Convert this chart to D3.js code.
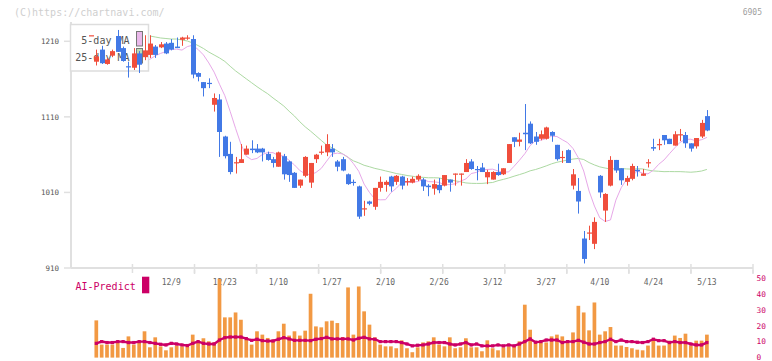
<!DOCTYPE html>
<html><head><meta charset="utf-8">
<script src="https://cdn.jsdelivr.net/npm/d3@7"></script>
<style>html,body{margin:0;padding:0;background:#fff;}svg{display:block;}</style>
</head><body>
<div id="chart"></div>
<script>
// ---- data ----
const dates = ["11/18","11/19","11/20","11/21","11/22","11/25","11/26","11/27","11/28","11/29",
"12/2","12/3","12/4","12/5","12/6","12/9","12/10","12/11","12/12","12/13",
"12/16","12/17","12/18","12/19","12/20","12/23","12/24","12/25","12/26","12/27",
"12/30","1/6","1/7","1/8","1/9","1/10","1/14","1/15","1/16","1/17",
"1/20","1/21","1/22","1/23","1/24","1/27","1/28","1/29","1/30","1/31",
"2/3","2/4","2/5","2/6","2/7","2/10","2/12","2/13","2/14","2/17",
"2/18","2/19","2/20","2/21","2/25","2/26","2/27","2/28","3/3","3/4",
"3/5","3/6","3/7","3/10","3/11","3/12","3/13","3/14","3/17","3/18",
"3/19","3/21","3/24","3/25","3/26","3/27","3/28","3/31","4/1","4/2",
"4/3","4/4","4/7","4/8","4/9","4/10","4/11","4/14","4/15","4/16",
"4/17","4/18","4/21","4/22","4/23","4/24","4/25","4/28","4/30","5/1",
"5/2","5/7","5/8","5/9","5/12","5/13"];
const open = [1218,1183,1199,1180,1191,1217,1201,1177,1175,1194,
1189,1192,1203,1202,1207,1208,1203,1212,1215,1213,
1168,1156,1155,1126,1133,1084,1061,1049,1049,1060,
1068,1068,1068,1061,1054,1044,1058,1051,1036,1019,
1032,1023,1054,1063,1063,1068,1051,1054,1034,1024,
1018,988,998,991,1016,1020,1031,1024,1031,1025,
1023,1027,1027,1019,1015,1020,1019,1027,1035,1035,
1037,1051,1041,1043,1030,1027,1037,1034,1049,1083,
1077,1089,1101,1084,1081,1081,1090,1073,1056,1066,
1019,1012,949,957,942,1032,986,1019,1053,1042,
1024,1028,1040,1032,1049,1070,1073,1086,1081,1072,
1086,1086,1075,1071,1084,1111];
const high = [1218,1199,1204,1188,1199,1225,1203,1183,1201,1197,
1218,1218,1205,1209,1209,1213,1215,1216,1218,1218,
1169,1156,1161,1141,1140,1085,1077,1057,1074,1072,
1079,1074,1069,1064,1057,1064,1061,1052,1037,1027,
1058,1049,1061,1072,1087,1074,1053,1057,1035,1027,
1019,999,999,1016,1031,1026,1032,1033,1032,1029,
1031,1034,1029,1021,1027,1029,1033,1027,1035,1035,
1054,1054,1045,1049,1040,1038,1048,1042,1074,1083,
1089,1127,1104,1090,1092,1097,1091,1073,1065,1067,
1041,1029,959,966,977,1033,1009,1058,1053,1042,
1032,1048,1045,1041,1054,1081,1081,1086,1081,1091,
1094,1090,1075,1082,1106,1119];
const low = [1218,1178,1180,1179,1189,1196,1183,1162,1172,1168,
1185,1188,1188,1201,1193,1198,1201,1204,1212,1161,
1157,1137,1148,1117,1057,1055,1034,1035,1049,1060,
1062,1062,1051,1052,1043,1044,1027,1024,1016,1016,
1030,1016,1049,1060,1058,1057,1038,1038,1020,1019,
975,979,993,987,1011,1011,1011,1020,1014,1019,
1022,1025,1012,1005,1007,1009,1018,1011,1019,1019,
1037,1040,1026,1037,1021,1027,1032,1033,1049,1070,
1071,1066,1074,1073,1079,1080,1077,1052,1049,1049,
1014,982,916,947,935,1003,971,1018,1036,1020,
1019,1026,1031,1032,1043,1065,1066,1073,1074,1072,
1078,1069,1064,1068,1082,1091];
const close = [1218,1190,1181,1186,1197,1196,1184,1176,1194,1179,
1198,1207,1192,1206,1194,1199,1201,1215,1215,1166,
1163,1148,1154,1135,1090,1058,1037,1050,1054,1068,
1066,1063,1063,1053,1049,1063,1034,1033,1016,1027,
1057,1049,1060,1064,1074,1063,1044,1039,1021,1023,
978,989,995,1016,1024,1024,1018,1032,1019,1025,
1028,1032,1018,1017,1021,1013,1033,1023,1035,1035,
1049,1041,1040,1037,1037,1037,1033,1042,1074,1077,
1080,1087,1075,1077,1087,1096,1085,1054,1057,1049,
1034,998,922,957,971,1010,1008,1053,1039,1026,
1029,1045,1038,1035,1050,1068,1074,1079,1074,1087,
1087,1075,1068,1082,1102,1092];
const ma25Head = [1217,1215.7,1214.4,1213.7,1213,1213,1211.7,1210.4,1207.8,1204.4,1200.5,1195.8,1191.9,1188];
const ma25HeadStart = 10;
const volume = [0,23.5,8.2,8.2,8.2,9.6,6.1,13.4,8.2,9.6,
16.6,6.5,12.8,7.1,4.6,6.5,7.6,7.1,7.1,14.5,
10.3,12.2,10.3,9.6,49.7,25.4,25.4,28.5,23.9,11.3,
8.2,16.6,14.5,12.4,11.3,16.6,21.4,13.9,16.6,13.9,
17.0,40.3,19.7,19.1,22.9,23.3,21.8,13.0,44.3,14.5,
44.9,29.2,20.8,12.8,8.2,7.1,7.1,5.9,10.9,5.9,
3.4,6.5,9.6,10.3,12.8,8.2,7.1,12.8,5.9,6.5,
12.2,6.5,6.5,4.0,10.9,5.9,4.6,6.5,7.1,7.8,
10.3,33.4,17.6,9.2,9.6,9.6,13.4,14.5,13.4,9.2,
15.9,32.7,28.5,17.2,34.8,14.5,16.6,19.3,7.6,7.6,
6.7,5.9,5.0,4.6,7.6,10.7,7.6,7.6,10.7,13.9,
12.4,15.1,7.6,10.7,10.7,14.5];
const aiPredict = [null,9.0,10.1,9.5,9.5,10.1,10.1,9.5,9.5,10.1,
10.1,9.5,9.0,8.4,8.0,9.0,8.6,8.0,7.6,9.0,
10.1,9.0,8.6,8.6,11.1,12.6,13.0,13.0,13.0,12.0,
10.9,11.6,10.7,10.5,10.5,11.6,12.6,11.8,10.9,10.9,
10.9,10.7,11.6,12.0,12.8,11.8,11.8,11.8,11.8,11.1,
12.2,12.8,11.8,11.6,10.1,10.1,10.1,10.1,9.5,8.6,
7.4,7.8,8.0,8.6,9.5,9.5,9.5,8.6,8.0,8.6,
9.5,8.0,8.6,7.4,7.4,7.4,8.0,7.4,8.0,7.4,
8.6,10.1,11.8,9.7,10.1,11.1,11.1,11.1,9.5,10.1,
10.1,10.9,9.7,8.6,8.6,9.5,10.1,11.6,10.1,11.1,
10.1,10.1,9.7,9.5,10.1,11.6,10.7,10.7,9.5,10.1,
9.5,9.5,8.6,8.0,8.0,9.5];
const priceTicks = [910,1010,1110,1210];
const dateLabels = ["12/9","12/23","1/10","1/27","2/10","2/26","3/12","3/27","4/10","4/24","5/13"];
const rightTicks = [0,10,20,30,40,50];
const legendItems = ["5-day MA","25-day MA"];
const code = "6905";

// ---- derived moving averages ----
function sma(n){ return close.map((c,i)=> i>=n-1 ? d3.mean(close.slice(i-n+1,i+1)) : null); }
const ma5 = sma(5);
const ma25 = sma(25).map((v,i)=> (i>=ma25HeadStart && i<ma25HeadStart+ma25Head.length) ? ma25Head[i-ma25HeadStart] : v);

// ---- drawing ----
const W=772,H=361;
const MONO = "'DejaVu Sans Mono', monospace";
const svg = d3.select("#chart").append("svg").attr("width",W).attr("height",H);

const x = d3.scalePoint().domain(dates).range([90.95, 706.9]);
const y = d3.scaleLinear().domain([910,1210]).range([268, 41.3]);
const yb = d3.scaleLinear().domain([0,50]).range([357.6, 278.4]);
const grid = d3.scaleLinear().domain([0,11]).range([70.4, 753]);
const AXIS = "#e0e0e0";

// watermark & code
svg.append("text").attr("x",14).attr("y",16).attr("font-family",MONO).attr("font-size",10)
  .attr("fill","#cfcfcf").text("(C)https://chartnavi.com/");
svg.append("text").attr("x",762).attr("y",15).attr("text-anchor","end").attr("font-family",MONO)
  .attr("font-size",8).attr("fill","#a0a0a0").text(code);

// main axes
svg.append("line").attr("x1",71).attr("x2",71).attr("y1",22).attr("y2",268).attr("stroke",AXIS).attr("stroke-width",2);
svg.append("line").attr("x1",71).attr("x2",753).attr("y1",268).attr("y2",268).attr("stroke",AXIS).attr("stroke-width",2);
svg.append("g").selectAll("line").data(d3.range(1,12)).join("line")
  .attr("x1",d=>grid(d)).attr("x2",d=>grid(d)).attr("y1",264).attr("y2",273).attr("stroke",AXIS).attr("stroke-width",1.5);
const yTickG = svg.append("g");
yTickG.selectAll("line").data(priceTicks).join("line")
  .attr("x1",64).attr("x2",72).attr("y1",d=>y(d)).attr("y2",d=>y(d)).attr("stroke",AXIS).attr("stroke-width",1.5);
yTickG.selectAll("text").data(priceTicks).join("text")
  .attr("x",59).attr("y",d=>y(d)+2.8).attr("text-anchor","end").attr("font-family",MONO)
  .attr("font-size",7.5).attr("fill","#555").text(d=>d);

// moving averages (plotted one session later)
const maLine = arr => d3.line()
  .defined((d,i)=> d!=null && i+1<dates.length)
  .x((d,i)=> x(dates[i+1])).y(d=>y(d))(arr);
svg.append("path").attr("d",maLine(ma25)).attr("fill","none").attr("stroke","#acd9a2").attr("stroke-width",1);
svg.append("path").attr("d",maLine(ma5)).attr("fill","none").attr("stroke","#e7a8e8").attr("stroke-width",1);

// legend box
const lg = svg.append("g");
lg.append("rect").attr("x",70.5).attr("y",24.5).attr("width",78).attr("height",46.5)
  .attr("fill","#fff").attr("stroke","#dddddd").attr("stroke-width",1.5);
lg.selectAll("text").data(legendItems).join("text")
  .attr("x",129.5).attr("y",(d,i)=>44+i*17).attr("text-anchor","end").attr("font-family",MONO)
  .attr("font-size",10).attr("fill","#555").text(d=>d);
lg.append("rect").attr("x",136.5).attr("y",31.5).attr("width",6).attr("height",14.5)
  .attr("fill","#eab8ea").attr("stroke","#777").attr("stroke-width",1);
lg.append("rect").attr("x",136.5).attr("y",48.5).attr("width",6).attr("height",14.5)
  .attr("fill","#bcdcb2").attr("stroke","#777").attr("stroke-width",1);

// candles
const UP="#f04e3c", DN="#4279e6";
const candles = svg.append("g");
dates.forEach((d,i)=>{
  const col = close[i]>=open[i] ? UP : DN;
  const cx = Math.round(x(d))+0.5;
  candles.append("line").attr("x1",cx).attr("x2",cx).attr("y1",y(high[i])).attr("y2",y(low[i]))
    .attr("stroke",col).attr("stroke-width",1);
  const top = y(Math.max(open[i],close[i])), bot = y(Math.min(open[i],close[i]));
  candles.append("rect").attr("x",cx-2.5).attr("width",5).attr("y",top).attr("height",Math.max(1.2,bot-top))
    .attr("fill",col);
});

// bottom panel
svg.append("g").selectAll("line").data(d3.range(2,12)).join("line")
  .attr("x1",d=>grid(d)).attr("x2",d=>grid(d)).attr("y1",270).attr("y2",274).attr("stroke",AXIS).attr("stroke-width",1.5);
svg.append("g").selectAll("text").data(dateLabels).join("text")
  .attr("x",d=>x(d)).attr("y",285).attr("text-anchor","middle").attr("font-family",MONO)
  .attr("font-size",8).attr("fill","#666").text(d=>d);
svg.append("g").selectAll("text").data(rightTicks).join("text")
  .attr("x",756.5).attr("y",d=>Math.min(yb(d)+2.6, 359.6)).attr("font-family",MONO)
  .attr("font-size",7.8).attr("fill","#cc0066").text(d=>d);

svg.append("g").selectAll("rect").data(dates).join("rect")
  .attr("x",d=>x(d)-1.85).attr("width",3.7)
  .attr("y",(d,i)=>yb(volume[i])).attr("height",(d,i)=>yb(0)-yb(volume[i]))
  .attr("fill","#f29943");

const aiLine = d3.line().defined(d=>d!=null).x((d,i)=>x(dates[i])).y(d=>yb(d));
svg.append("path").attr("d",aiLine(aiPredict)).attr("fill","none").attr("stroke","#cc0066").attr("stroke-width",2.4);
svg.append("g").selectAll("rect").data(aiPredict.map((v,i)=>({v,i})).filter(d=>d.v!=null)).join("rect")
  .attr("x",d=>x(dates[d.i])-1.6).attr("y",d=>yb(d.v)-1.6).attr("width",3.2).attr("height",3.2).attr("fill","#cc0066");

svg.append("text").attr("x",75.5).attr("y",290).attr("font-family",MONO).attr("font-size",10)
  .attr("fill","#cc0066").text("AI-Predict");
svg.append("rect").attr("x",142).attr("y",276.7).attr("width",7.3).attr("height",16.6).attr("fill","#cc0066");
</script>
</body></html>
